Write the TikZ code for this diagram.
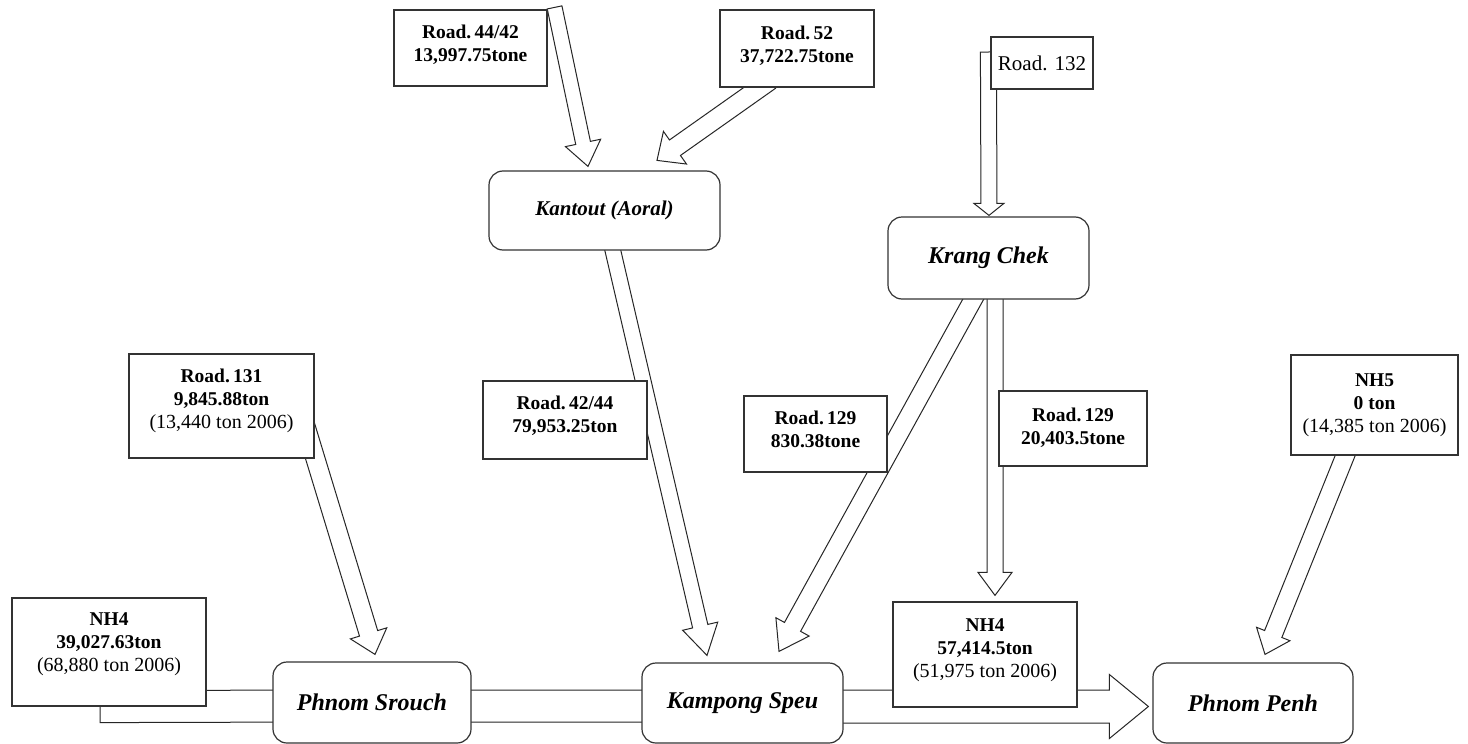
\documentclass[tikz,border=0pt]{standalone}
\usepackage{fontspec}
\setmainfont{Liberation Serif}
\usetikzlibrary{calc}

\pgfdeclarelayer{paper}
\pgfdeclarelayer{flows}
\pgfsetlayers{paper,flows,main}

% hollow block arrow: tail, tip, shaft half-width, head half-width, head length
\newcommand\blockarrow[5]{%
  \coordinate (ba-h) at ($(#2)!#5!(#1)$);
  \draw[flowarrow]
    ($(#1)!#3!90:(#2)$) -- ($(ba-h)!#3!90:(#2)$) -- ($(ba-h)!#4!90:(#2)$)
    -- (#2)
    -- ($(ba-h)!#4!-90:(#2)$) -- ($(ba-h)!#3!-90:(#2)$) -- ($(#1)!#3!-90:(#2)$) -- cycle;
}

\tikzset{
  flowarrow/.style={draw=black!85, line width=1pt, fill=white, line join=miter},
  databox/.style={draw=black!80, line width=1.2pt, fill=white, rectangle, inner sep=0pt},
  place/.style={draw=black!80, line width=1.2pt, fill=white, rectangle,
    rounded corners=14pt, inner sep=0pt,
    font=\fontsize{24}{28}\selectfont\bfseries\itshape},
  labeltext/.style={inner sep=0pt, align=center, anchor=north,
    font=\fontsize{19.5}{23}\selectfont\bfseries},
}
\newcommand\yearline[1]{{\mdseries\fontsize{20}{23}\selectfont #1}}

\begin{document}
\begin{tikzpicture}[x=1pt,y=-1pt]
\useasboundingbox (0,0) rectangle (1468,744);
\begin{pgfonlayer}{paper}
  \fill[white] (0,0) rectangle (1468,744);
\end{pgfonlayer}

% ---- places ----
\node[place, minimum width=231pt, minimum height=79pt,
      font=\fontsize{21}{25}\selectfont\bfseries\itshape] (kantout) at (604.5,210.5) {Kantout (Aoral)};
\node[place, minimum width=201pt, minimum height=82pt] (krang) at (988.5,258) {Krang Chek};
\node[place, minimum width=198pt, minimum height=81pt] (srouch) at (372,702.5) {Phnom Srouch};
\node[place, minimum width=201pt, minimum height=80pt] (speu) at (742.5,703) {Kampong Speu};
\node[place, minimum width=200pt, minimum height=80pt] (penh) at (1253,703) {Phnom Penh};

% ---- road boxes ----
\node[databox, minimum width=153pt, minimum height=76pt] (r4442) at (470.5,48) {};
\node[labeltext] (r4442t) at ([yshift=-15.5pt]r4442.north) {Road.\,44/42\\13,997.75tone};

\node[databox, minimum width=154pt, minimum height=77pt] (r52) at (797,48.5) {};
\node[labeltext] (r52t) at ([yshift=-16pt]r52.north) {Road.\,52\\37,722.75tone};

\node[databox, minimum width=102pt, minimum height=52pt,
      font=\fontsize{21}{25}\selectfont] (r132) at (1042,63) {Road. 132};

\node[databox, minimum width=185pt, minimum height=104pt] (r131) at (221.5,406) {};
\node[labeltext] (r131t) at ([yshift=-15.5pt]r131.north) {Road.\,131\\9,845.88ton\\\yearline{(13,440 ton 2006)}};

\node[databox, minimum width=164pt, minimum height=78pt] (r4244) at (565,420) {};
\node[labeltext] (r4244t) at ([yshift=-15.5pt]r4244.north) {Road.\,42/44\\79,953.25ton};

\node[databox, minimum width=143pt, minimum height=76pt] (r129a) at (815.5,434) {};
\node[labeltext] (r129at) at ([yshift=-15pt]r129a.north) {Road.\,129\\830.38tone};

\node[databox, minimum width=148pt, minimum height=75pt] (r129b) at (1073,428.5) {};
\node[labeltext] (r129bt) at ([yshift=-17pt]r129b.north) {Road.\,129\\20,403.5tone};

\node[databox, minimum width=167pt, minimum height=100pt] (nh5) at (1374.5,405) {};
\node[labeltext] (nh5t) at ([yshift=-19pt]nh5.north) {NH5\\0 ton\\\yearline{(14,385 ton 2006)}};

\node[databox, minimum width=194pt, minimum height=108pt] (nh4a) at (109,652) {};
\node[labeltext] (nh4at) at ([yshift=-15pt]nh4a.north) {NH4\\39,027.63ton\\\yearline{(68,880 ton 2006)}};

\node[databox, minimum width=184pt, minimum height=105pt] (nh4b) at (985,654.5) {};
\node[labeltext] (nh4bt) at ([yshift=-17pt]nh4b.north) {NH4\\57,414.5ton\\\yearline{(51,975 ton 2006)}};

% ---- freight flows ----
\begin{pgfonlayer}{flows}
  \coordinate (a1s) at ($(r4442.north east)+(7,-2)$);
  \coordinate (a1e) at ($(kantout.north)+(-16.5,-4)$);
  \blockarrow{a1s}{a1e}{7.5pt}{18pt}{24pt}

  \coordinate (a2s) at ($(r52.south)+(-27,-7)$);
  \coordinate (a2e) at ($(kantout.north)+(52.5,-10)$);
  \blockarrow{a2s}{a2e}{9.5pt}{20pt}{22pt}

  \coordinate (a3s) at ($(r132.west)+(-2,-11)$);
  \coordinate (a3e) at ($(krang.north)+(0.5,-1)$);
  \blockarrow{a3s}{a3e}{8pt}{15pt}{12pt}

  \coordinate (a4s) at ($(kantout.south)+(6.5,-8)$);
  \coordinate (a4e) at ($(speu.north)+(-35.5,-7)$);
  \blockarrow{a4s}{a4e}{7.8pt}{18pt}{30pt}

  \coordinate (a5s) at ($(krang.south)+(-10.5,-9)$);
  \coordinate (a5e) at ($(speu.north)+(36.5,-11)$);
  \blockarrow{a5s}{a5e}{9.2pt}{19pt}{28pt}

  \coordinate (a6s) at ($(krang.south)+(6.5,-9)$);
  \coordinate (a6e) at ($(nh4b.north)+(10,-6)$);
  \blockarrow{a6s}{a6e}{8pt}{17pt}{23pt}

  \coordinate (a7s) at ($(r131.east)+(-14,4)$);
  \coordinate (a7e) at ($(srouch.north)+(3,-7)$);
  \blockarrow{a7s}{a7e}{9.5pt}{19pt}{22pt}

  \coordinate (a8s) at ($(nh5.south)+(-26.5,-7)$);
  \coordinate (a8e) at ($(penh.north)+(12,-8)$);
  \blockarrow{a8s}{a8e}{9.3pt}{18pt}{22pt}

  \coordinate (a9s) at ($(speu.east)+(-23,3.5)$);
  \coordinate (a9e) at ($(penh.west)+(-4,3.5)$);
  \blockarrow{a9s}{a9e}{16.5pt}{32pt}{39pt}

  \coordinate (a10s) at ($(nh4a.south)+(-9,0)$);
  \coordinate (a10e) at ($(srouch.west)+(47,3.5)$);
  \blockarrow{a10s}{a10e}{16pt}{32pt}{39pt}

  \coordinate (a11s) at ($(srouch.east)+(-31,3.5)$);
  \coordinate (a11e) at ($(speu.west)+(58,3)$);
  \blockarrow{a11s}{a11e}{16pt}{32pt}{39pt}
\end{pgfonlayer}
\end{tikzpicture}
\end{document}
